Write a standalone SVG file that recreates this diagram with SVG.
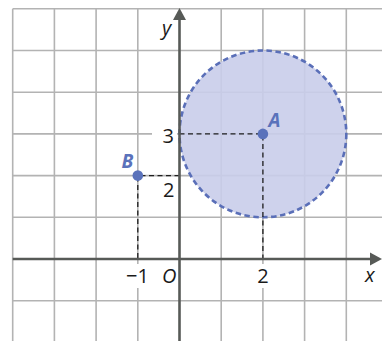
<svg xmlns="http://www.w3.org/2000/svg" width="382" height="341" viewBox="0 0 382 341">
<style>
.grid{stroke:#b3b3b3;stroke-width:1.6;fill:none}
.axis{stroke:#575a57;stroke-width:2.6;fill:none}
.guide{stroke:#1e1e1e;stroke-width:1.3;stroke-dasharray:5 3.5;fill:none}
.lbl{font-family:"Open Sans","Liberation Sans",sans-serif;font-size:20px;fill:#1a1a1a}
.it{font-style:italic}
.pt{fill:#5a72bb}
.ptl{font-family:"Open Sans","Liberation Sans",sans-serif;font-size:19px;font-weight:bold;font-style:italic;fill:#5a72bb}
</style>
<rect width="382" height="341" fill="#ffffff"/>
<g id="grid">
<path class="grid" d="M12.7 8.8V341M54.4 8.8V341M96.1 8.8V341M137.8 8.8V341M221.2 8.8V341M262.9 8.8V341M304.6 8.8V341M346.3 8.8V341"/>
<path class="grid" d="M12.7 8.8H382M12.7 50.5H382M12.7 92.2H382M12.7 133.9H382M12.7 175.6H382M12.7 217.3H382M12.7 300.7H382"/>
</g>
<g id="label-bg" fill="#ffffff">
<rect x="152" y="124" width="25" height="20"/>
<rect x="124" y="264" width="30" height="24"/>
<rect x="254" y="264" width="18" height="24"/>
</g>
<g id="disc">
<circle cx="262.9" cy="133.9" r="83.4" fill="#c9cdea" fill-opacity="0.9" stroke="#5a6fb8" stroke-width="2.6" stroke-dasharray="5.5 3.5"/>
</g>
<g id="connectors">
<path class="guide" d="M179.5 133.9H262.9V259"/>
<path class="guide" d="M179.5 175.6H137.8V259"/>
</g>
<g id="axes">
<path class="axis" d="M12.7 259H373"/>
<path d="M382 259L370 252.5V265.5Z" fill="#575a57"/>
<path class="axis" d="M179.5 341V19"/>
<path d="M179.5 8L173 20H186Z" fill="#575a57"/>
</g>
<g id="labels">
<text class="lbl it" x="162" y="35">y</text>
<text class="lbl it" x="365" y="282">x</text>
<text class="lbl" x="162.5" y="143">3</text>
<text class="lbl" x="163" y="197">2</text>
<text class="lbl" x="126" y="283">−1</text>
<text class="lbl it" x="162" y="283">O</text>
<text class="lbl" x="263" y="283" text-anchor="middle">2</text>
</g>
<g id="point-A">
<circle class="pt" cx="262.9" cy="133.9" r="5.3"/>
<text class="ptl" x="268.5" y="127">A</text>
</g>
<g id="point-B">
<circle class="pt" cx="137.8" cy="175.6" r="5.3"/>
<text class="ptl" x="121.5" y="168">B</text>
</g>
</svg>
